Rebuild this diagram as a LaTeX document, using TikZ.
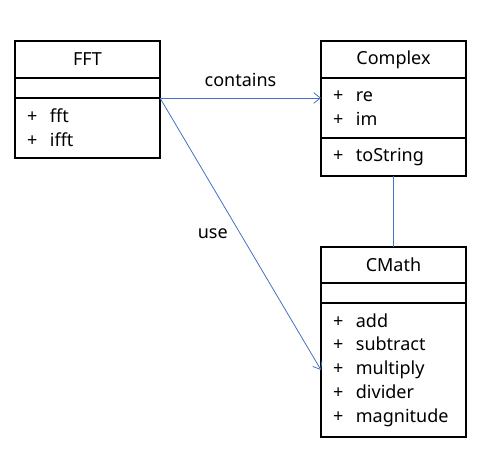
\documentclass[tikz,border=0pt]{standalone}
\usepackage{fontspec}
\setmainfont{Noto Sans}
\usetikzlibrary{positioning, arrows.meta}

\definecolor{linkblue}{RGB}{68,114,196}
\newcommand{\mbr}[1]{+\hspace{0.7em}#1}

\tikzset{
    part/.style={draw, line width=1.5pt, outer sep=0pt, minimum width=108.75pt,
        text width=90.75pt, inner xsep=9pt, inner ysep=0pt},
    title/.style={part, align=center},
    members/.style={part, align=left},
    link/.style={draw=linkblue, line width=0.6pt},
    arr/.style={link, -{Straight Barb[length=5pt, width=8pt, line width=0.6pt]}}
}

\begin{document}
\begin{tikzpicture}[x=0.75pt, y=-0.75pt, font=\fontsize{13.5}{17.8}\selectfont]
    \useasboundingbox (0,0) rectangle (497,449);

    % FFT
    \node[title, minimum height=27.75pt, anchor=north west] (ffttitle) at (15,41) {FFT};
    \node[members, minimum height=15pt, below=0pt of ffttitle] (fftattr) {};
    \node[members, minimum height=45pt, below=0pt of fftattr] (fftops) {\mbr{fft}\\\mbr{ifft}};

    % Complex
    \node[title, minimum height=27.75pt, anchor=north west] (cpxtitle) at (321,41) {Complex};
    \node[members, minimum height=45pt, below=0pt of cpxtitle] (cpxattr) {\mbr{re}\\\mbr{im}};
    \node[members, minimum height=28.5pt, below=0pt of cpxattr] (cpxops) {\mbr{toString}};

    % CMath
    \node[title, minimum height=27pt, anchor=north west] (cmtitle) at (321,247) {CMath};
    \node[members, minimum height=15pt, below=0pt of cmtitle] (cmattr) {};
    \node[members, minimum height=100.5pt, below=0pt of cmattr] (cmops)
        {\mbr{add}\\\mbr{subtract}\\\mbr{multiply}\\\mbr{divider}\\\mbr{magnitude}};

    % connectors
    \draw[arr] (fftops.north east) -- (cpxattr.west |- fftops.north east)
        node[midway, above=5pt] (lblcontains) {contains};
    \draw[arr] (fftops.north east) -- (cmops.west)
        node[midway, left=6pt] (lbluse) {use};
    \draw[link] (cpxops.south) -- (cmtitle.north);
\end{tikzpicture}
\end{document}
